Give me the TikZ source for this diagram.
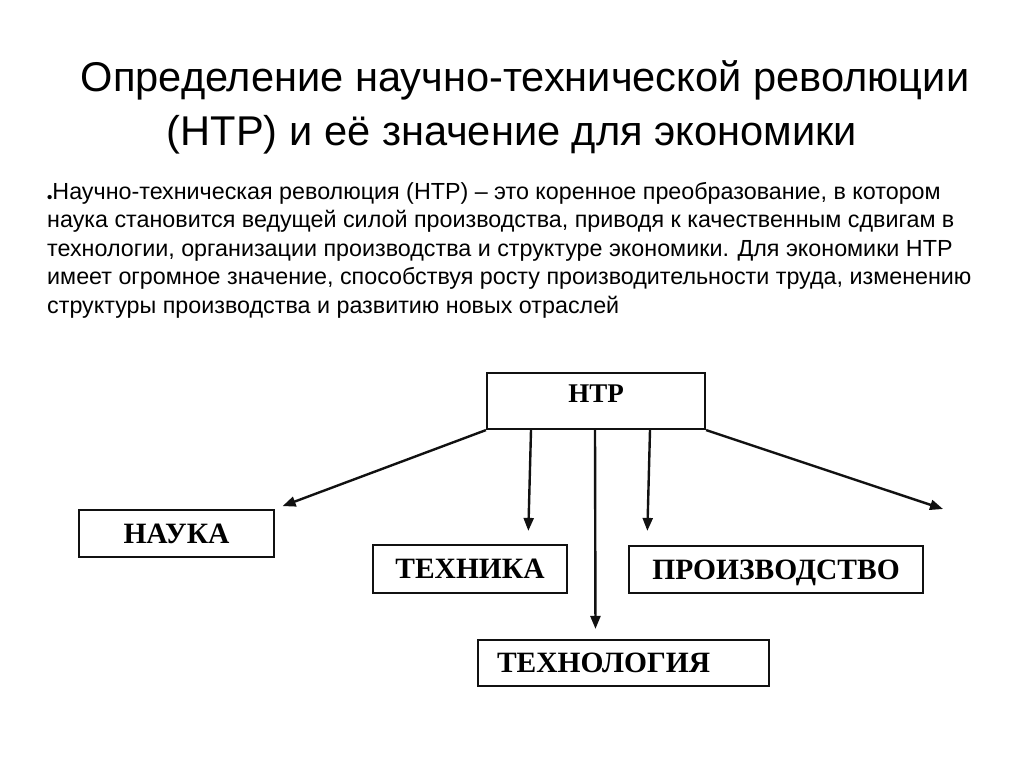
\documentclass[tikz,border=0pt]{standalone}
\usepackage{fontspec}
\setmainfont{Liberation Sans}
\newfontfamily\schemefont{Liberation Serif}
\usetikzlibrary{arrows.meta,positioning,calc}
\definecolor{NTInk}{HTML}{111111}

\begin{document}
\begin{tikzpicture}[
        x=1pt,y=-1pt,
        scheme/.style={draw=NTInk,line width=2.2pt,inner sep=0pt,text height=19pt,text depth=0pt,
          font=\schemefont\bfseries\fontsize{29.5}{32}\selectfont},
        arrow/.style={-{Triangle[length=13pt,width=10pt]},line width=2.4pt,NTInk}
      ]
        \useasboundingbox (0,0) rectangle (1024,767);
        \node[anchor=base,font=\fontsize{41.6}{48}\selectfont] (title1) at (525,92) {Определение научно-технической революции};
        \node[anchor=base,font=\fontsize{41.6}{48}\selectfont] (title2) at (512,146) {(НТР) и её значение для экономики};
        \node[anchor=north west,inner sep=0pt,align=left,
          font=\fontsize{23.3}{28.5}\selectfont] (intro) at (47,182)
          {\raisebox{-3pt}{\fontsize{15}{15}\selectfont\bfseries •}Научно-техническая революция (НТР) – это коренное преобразование, в котором\\
          наука становится ведущей силой производства, приводя к качественным сдвигам в\\
          технологии, организации производства и структуре экономики. Для экономики НТР\\
          имеет огромное значение, способствуя росту производительности труда, изменению\\
          структуры производства и развитию новых отраслей};
        \node[scheme,font=\schemefont\bfseries\fontsize{27}{30}\selectfont,
          minimum width=218pt,minimum height=56pt,text depth=16pt] (ntr) at (596,401) {НТР};
        \node[scheme,minimum width=195pt,minimum height=47pt] (nauka) at (176.5,533.5) {НАУКА};
        \node[scheme,minimum width=194pt,minimum height=48pt] (tehnika) at (470,569) {ТЕХНИКА};
        \node[scheme,minimum width=294pt,minimum height=47pt] (proizv) at (776,569.5) {ПРОИЗВОДСТВО};
        \node[scheme,minimum width=291pt,minimum height=46pt,text width=253pt,align=left,inner xsep=19pt] (tehnol) at (623.5,663) {ТЕХНОЛОГИЯ};
        \coordinate (rightend) at (943,509);
        \draw[arrow,shorten >=8pt] (ntr.south west)--(nauka.north east);
        \draw[arrow,shorten >=13pt] ([xshift=-65pt]ntr.south)--([xshift=58pt]tehnika.north);
        \draw[arrow,shorten >=10pt] ([xshift=-1pt]ntr.south)--([xshift=-28pt]tehnol.north);
        \draw[arrow,shorten >=14pt] ([xshift=54pt]ntr.south)--([xshift=-129pt]proizv.north);
        \draw[arrow] (ntr.south east)--(rightend);
      \end{tikzpicture}
\end{document}
